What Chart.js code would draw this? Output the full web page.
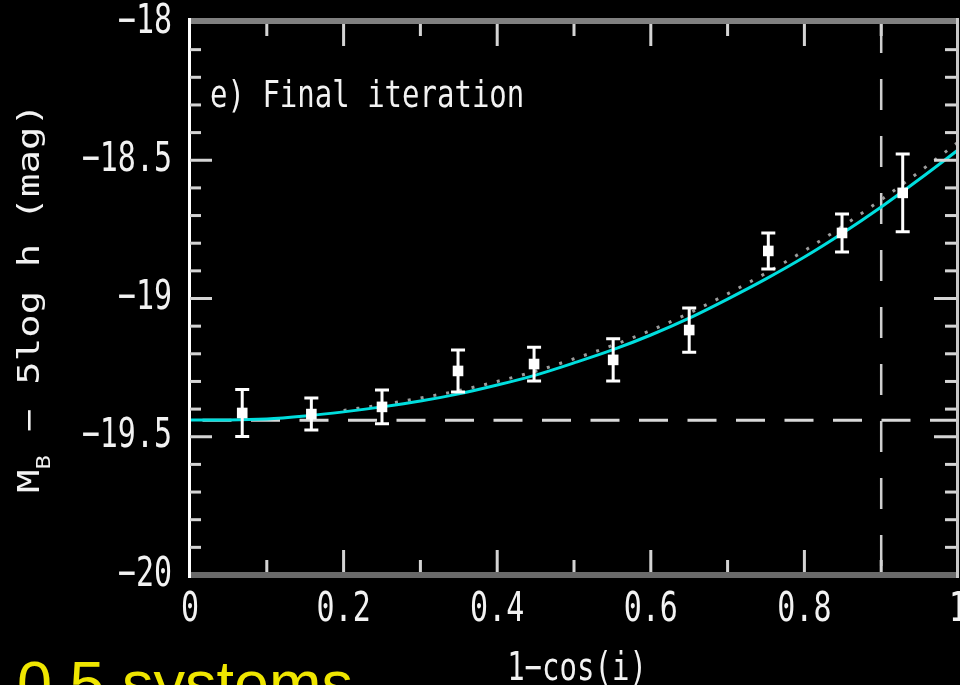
<!DOCTYPE html>
<html>
<head>
<meta charset="utf-8">
<script src="https://cdn.jsdelivr.net/npm/chart.js@4/dist/chart.umd.min.js"></script>
<style>
  html, body { margin: 0; padding: 0; background: #000; overflow: hidden; }
  canvas { display: block; }
</style>
</head>
<body>
<canvas id="chart" width="960" height="685"></canvas>
<script>
// Binned corrected magnitudes versus inclination, with 1-sigma errors
const binX   = [0.068, 0.158, 0.250, 0.349, 0.448, 0.551, 0.650, 0.753, 0.849, 0.928];
const binMag = [-19.414, -19.418, -19.392, -19.262, -19.237, -19.222, -19.114, -18.828, -18.763, -18.618];
const binErr = [0.085, 0.058, 0.061, 0.076, 0.061, 0.076, 0.080, 0.065, 0.069, 0.141];

// Extinction curve of the final iteration
const fitX   = [0, 0.05, 0.10, 0.15, 0.20, 0.25, 0.30, 0.35, 0.40, 0.45, 0.50,
                0.55, 0.60, 0.65, 0.70, 0.75, 0.80, 0.85, 0.90, 0.95, 1.00];
const fitMag = [-19.439, -19.439, -19.436, -19.425, -19.410, -19.392, -19.371, -19.345, -19.313, -19.277, -19.233,
                -19.186, -19.132, -19.071, -19.002, -18.929, -18.850, -18.763, -18.669, -18.568, -18.463];

// Curve of the previous iteration (dotted)
const prevX   = [0.20, 0.25, 0.30, 0.35, 0.40, 0.45, 0.50, 0.55, 0.60,
                 0.65, 0.70, 0.75, 0.80, 0.85, 0.90, 0.95, 1.00];
const prevMag = [-19.405, -19.384, -19.360, -19.333, -19.300, -19.263, -19.218, -19.170, -19.115,
                 -19.053, -18.983, -18.908, -18.827, -18.738, -18.643, -18.541, -18.435];

// Face-on magnitude level and inclination cut
const faceOnMag = -19.44;
const inclCut   = 0.9;

// Axes
const xRange = [0, 1];
const yRange = [-20, -18];
const xTicks = [0, 0.2, 0.4, 0.6, 0.8, 1];
const xTickLabels = ['0', '0.2', '0.4', '0.6', '0.8', '1'];
const yTicks = [-20, -19.5, -19, -18.5, -18];
const yTickLabels = ['\u221220', '\u221219.5', '\u221219', '\u221218.5', '\u221218'];
const xMinorStep = 0.1;
const yMinorStep = 0.1;

// Texts
const panelLabel = 'e) Final iteration';
const xTitle = '1\u2212cos(i)';
const yTitleMain = 'M';
const yTitleSub = 'B';
const yTitleRest = ' \u2212 5log h (mag)';
const caption = '0.5 systems';

const MONO = '"DejaVu Sans Mono", "Liberation Mono", monospace';

function stretchedText(ctx, text, x, y, align, baseline, size, sy) {
  ctx.save();
  ctx.font = size + 'px ' + MONO;
  ctx.textAlign = align;
  ctx.textBaseline = baseline;
  ctx.translate(x, y);
  ctx.scale(1, sy);
  ctx.fillText(text, 0, 0);
  ctx.restore();
}

const blackBackground = {
  id: 'blackBackground',
  beforeDraw(chart) {
    const ctx = chart.ctx;
    ctx.save();
    ctx.fillStyle = '#000';
    ctx.fillRect(0, 0, chart.width, chart.height);
    ctx.restore();
  }
};

const frameAndBars = {
  id: 'frameAndBars',
  afterDatasetsDraw(chart) {
    const ctx = chart.ctx;
    const xa = chart.scales.x, ya = chart.scales.y;
    const { left, right, top, bottom } = chart.chartArea;
    ctx.save();

    // frame
    ctx.fillStyle = '#808080';
    ctx.fillRect(left - 1, top - 4, right - left + 2, 6);
    ctx.fillStyle = '#6a6a6a';
    ctx.fillRect(left, bottom - 3, right - left, 6);
    ctx.fillStyle = '#c8c8c8';
    ctx.fillRect(right - 2, top - 4, 3, bottom - top + 7);
    ctx.fillStyle = '#ffffff';
    ctx.fillRect(left - 2, top - 4, 3, bottom - top + 7);

    // inward ticks
    ctx.fillStyle = '#d4d4d4';
    const nx = Math.round((xRange[1] - xRange[0]) / xMinorStep);
    for (let k = 1; k < nx; k++) {
      const v = xRange[0] + k * xMinorStep;
      const px = xa.getPixelForValue(v);
      const major = xTicks.some(t => Math.abs(t - v) < 1e-6);
      const len = major ? 22 : 12;
      ctx.fillRect(px - 1.5, bottom - 3 - len, 3, len);
      ctx.fillRect(px - 1.5, top + 2, 3, len);
    }
    const ny = Math.round((yRange[1] - yRange[0]) / yMinorStep);
    for (let k = 1; k < ny; k++) {
      const v = yRange[0] + k * yMinorStep;
      const py = ya.getPixelForValue(v);
      const major = yTicks.some(t => Math.abs(t - v) < 1e-6);
      const len = major ? 22 : 11;
      ctx.fillRect(left, py - 1.5, len, 3);
      ctx.fillRect(right - 2 - len, py - 1.5, len, 3);
    }

    // error bars
    ctx.strokeStyle = '#ffffff';
    ctx.lineWidth = 3;
    binX.forEach((x, i) => {
      const px = xa.getPixelForValue(x);
      const pLo = ya.getPixelForValue(binMag[i] - binErr[i]);
      const pHi = ya.getPixelForValue(binMag[i] + binErr[i]);
      ctx.beginPath();
      ctx.moveTo(px, pLo); ctx.lineTo(px, pHi);
      ctx.moveTo(px - 7, pLo); ctx.lineTo(px + 7, pLo);
      ctx.moveTo(px - 7, pHi); ctx.lineTo(px + 7, pHi);
      ctx.stroke();
    });
    ctx.restore();
  },
  afterDraw(chart) {
    const ctx = chart.ctx;
    const xa = chart.scales.x, ya = chart.scales.y;
    const { left, bottom } = chart.chartArea;
    ctx.save();
    ctx.fillStyle = '#f2f2f2';

    // tick labels
    yTicks.forEach((v, i) => {
      stretchedText(ctx, yTickLabels[i], left - 18, ya.getPixelForValue(v), 'right', 'middle', 30, 1.36);
    });
    xTicks.forEach((v, i) => {
      stretchedText(ctx, xTickLabels[i], xa.getPixelForValue(v), bottom + 35, 'center', 'middle', 30, 1.36);
    });

    // panel label and x title
    stretchedText(ctx, panelLabel, 210, 107, 'left', 'alphabetic', 29, 1.3);
    stretchedText(ctx, xTitle, 577, 680, 'center', 'alphabetic', 29, 1.36);

    // rotated y title
    ctx.save();
    ctx.translate(31, 493);
    ctx.rotate(-Math.PI / 2);
    ctx.textBaseline = 'middle';
    ctx.textAlign = 'left';
    ctx.font = '31px ' + MONO;
    const wM = ctx.measureText(yTitleMain).width;
    const wRest = ctx.measureText(yTitleRest).width;
    ctx.font = '19px ' + MONO;
    const wSub = ctx.measureText(yTitleSub).width;
    const sx = 390 / (wM + wSub + wRest);
    ctx.scale(sx, 1);
    ctx.font = '31px ' + MONO;
    ctx.fillText(yTitleMain, 0, 0);
    ctx.font = '19px ' + MONO;
    ctx.fillText(yTitleSub, wM, 14);
    ctx.font = '31px ' + MONO;
    ctx.fillText(yTitleRest, wM + wSub, 0);
    ctx.restore();

    // caption
    ctx.fillStyle = '#efe600';
    ctx.font = '63px "Liberation Sans", Arial, sans-serif';
    ctx.textAlign = 'left';
    ctx.textBaseline = 'alphabetic';
    ctx.fillText(caption, 17, 705);
    ctx.restore();
  }
};

function flushScale(s) {
  s.paddingLeft = 0; s.paddingRight = 0; s.paddingTop = 0; s.paddingBottom = 0;
}

new Chart(document.getElementById('chart').getContext('2d'), {
  type: 'scatter',
  data: {
    datasets: [
      {
        label: 'bins',
        data: binX.map((x, i) => ({ x, y: binMag[i] })),
        pointStyle: 'rect',
        pointRadius: 7.5,
        backgroundColor: '#ffffff',
        borderWidth: 0,
        order: 0
      },
      {
        label: 'final fit',
        type: 'line',
        data: fitX.map((x, i) => ({ x, y: fitMag[i] })),
        borderColor: '#00dede',
        borderWidth: 3,
        pointRadius: 0,
        cubicInterpolationMode: 'monotone',
        order: 1
      },
      {
        label: 'previous fit',
        type: 'line',
        data: prevX.map((x, i) => ({ x, y: prevMag[i] })),
        borderColor: '#9c9c9c',
        borderWidth: 3,
        borderDash: [3, 10],
        pointRadius: 0,
        cubicInterpolationMode: 'monotone',
        order: 2
      },
      {
        label: 'face-on level',
        type: 'line',
        data: [{ x: xRange[0], y: faceOnMag }, { x: xRange[1], y: faceOnMag }],
        borderColor: '#d9d9d9',
        borderWidth: 3,
        borderDash: [29, 19.5],
        borderDashOffset: 36,
        pointRadius: 0,
        order: 3
      },
      {
        label: 'inclination cut',
        type: 'line',
        data: [{ x: inclCut, y: yRange[1] }, { x: inclCut, y: yRange[0] }],
        borderColor: '#cfcfcf',
        borderWidth: 2.5,
        borderDash: [31, 26],
        pointRadius: 0,
        order: 4
      }
    ]
  },
  options: {
    responsive: false,
    animation: false,
    devicePixelRatio: 1,
    layout: { autoPadding: false, padding: { left: 190, top: 22, right: 2, bottom: 110 } },
    plugins: { legend: { display: false }, tooltip: { enabled: false } },
    scales: {
      x: {
        type: 'linear', min: xRange[0], max: xRange[1],
        grid: { display: false }, border: { display: false }, ticks: { display: false },
        afterFit(s) { s.height = 0; flushScale(s); }
      },
      y: {
        type: 'linear', min: yRange[0], max: yRange[1],
        grid: { display: false }, border: { display: false }, ticks: { display: false },
        afterFit(s) { s.width = 0; flushScale(s); }
      }
    }
  },
  plugins: [blackBackground, frameAndBars]
});
</script>
</body>
</html>
